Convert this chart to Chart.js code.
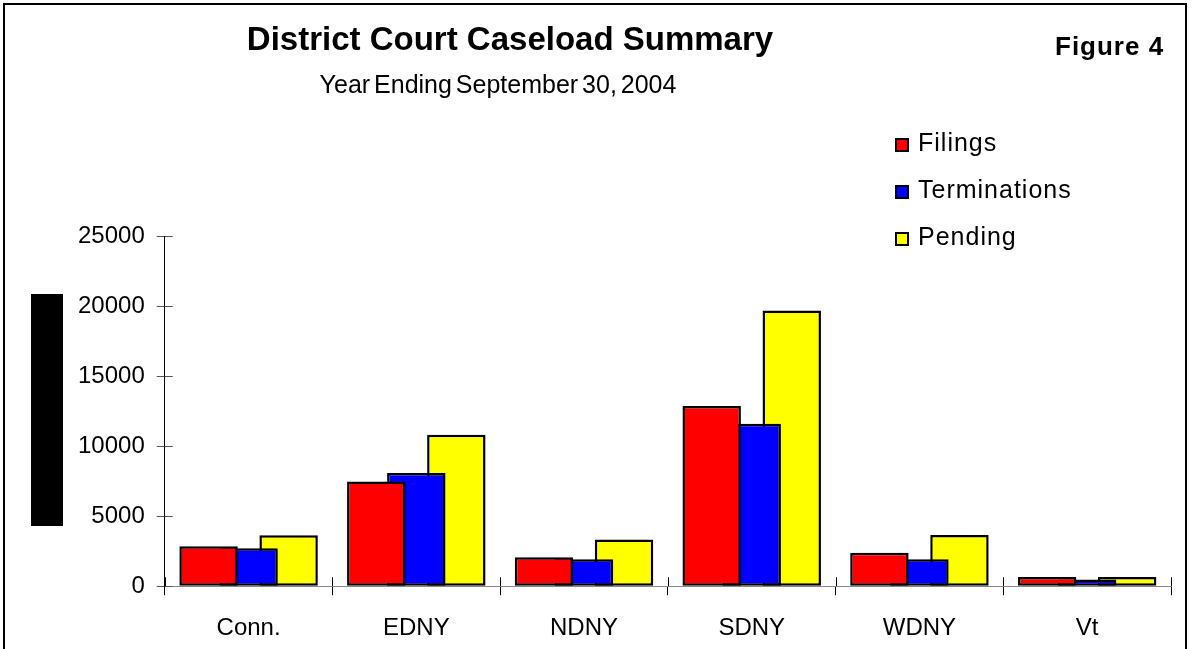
<!DOCTYPE html>
<html>
<head>
<meta charset="utf-8">
<script src="https://cdn.jsdelivr.net/npm/chart.js@4"></script>
<style>
    body { margin: 0; background: #fff; font-family: "Liberation Sans", Arial, sans-serif; }
    #wrap { position: relative; width: 1196px; height: 649px; overflow: hidden; }
    #frame { position: absolute; left: 3px; top: 3px; width: 1184px; height: 700px; border: 2px solid #000; box-sizing: border-box; }
    #titulo { position: absolute; left: 0; width: 1020px; top: 20px; text-align: center; font-weight: bold; font-size: 33px; }
    #subtitulo { position: absolute; left: 0; width: 996px; top: 70px; text-align: center; font-size: 25px; word-spacing: -3px; }
    #figura { position: absolute; left: 1055px; top: 31px; font-weight: bold; font-size: 26px; letter-spacing: 1px; }
    #bloque { position: absolute; left: 31px; top: 294px; width: 32px; height: 232px; background: #000; }
    #leyenda { position: absolute; left: 895px; top: 128px; }
    .item { height: 47px; display: flex; align-items: flex-start; font-size: 25px; letter-spacing: 1px; }
    .cuadro { width: 10px; height: 10px; border: 2px solid #000; margin-top: 10px; margin-right: 9px; }
    canvas { position: absolute; left: 0; top: 0; }
</style>
</head>
<body>
<div id="wrap">
    <canvas id="grafico" width="1196" height="680"></canvas>
    <div id="frame"></div>
    <div id="titulo">District Court Caseload Summary</div>
    <div id="subtitulo">Year Ending September 30, 2004</div>
    <div id="figura">Figure 4</div>
    <div id="bloque"></div>
    <div id="leyenda"></div>
</div>
<script>
const distritos = ['Conn.', 'EDNY', 'NDNY', 'SDNY', 'WDNY', 'Vt'];
const filings = [2860, 7480, 2070, 12860, 2380, 660];
const terminations = [2710, 8090, 1930, 11590, 1930, 480];
const pending = [3640, 10810, 3330, 19690, 3660, 660];
const series = ['Filings', 'Terminations', 'Pending'];
const colores = ['#FF0000', '#0000FF', '#FFFF00'];
const ticksY = [0, 5000, 10000, 15000, 20000, 25000];

const fuente = '"Liberation Sans", Arial, sans-serif';

// leyenda vertical, a partir de las series
const leyenda = document.getElementById('leyenda');
series.forEach((nombre, i) => {
    leyenda.innerHTML += `<div class="item"><span class="cuadro" style="background:${colores[i]}"></span><span>${nombre}</span></div>`;
});

// marcas que cruzan los ejes hacia dentro del área
const marcasInternas = {
    id: 'marcasInternas',
    afterDraw(chart) {
        const ctx = chart.ctx;
        const area = chart.chartArea;
        const x = chart.scales.x;
        const y = chart.scales.y;
        ctx.save();
        ctx.lineWidth = 1;
        ctx.strokeStyle = '#555';
        y.ticks.forEach((t, i) => {
            const py = Math.round(y.getPixelForTick(i)) + 0.5;
            ctx.beginPath();
            ctx.moveTo(area.left, py);
            ctx.lineTo(area.left + 8, py);
            ctx.stroke();
        });
        ctx.strokeStyle = '#000';
        const medio = (x.getPixelForTick(1) - x.getPixelForTick(0)) / 2;
        for (let i = 0; i <= distritos.length; i++) {
            const px = Math.round(x.getPixelForTick(0) - medio + i * medio * 2) + 0.5;
            ctx.beginPath();
            ctx.moveTo(px, area.bottom);
            ctx.lineTo(px, area.bottom - 9);
            ctx.stroke();
        }
        ctx.restore();
    }
};

new Chart(document.getElementById('grafico'), {
    type: 'bar',
    data: {
        labels: distritos,
        datasets: [
            { label: series[0], data: filings, backgroundColor: colores[0] },
            { label: series[1], data: terminations, backgroundColor: colores[1] },
            { label: series[2], data: pending, backgroundColor: colores[2] }
        ].map(d => Object.assign(d, {
            borderColor: '#000',
            borderWidth: 2.5,
            borderSkipped: false,
            categoryPercentage: 0.716,
            barPercentage: 1.46
        }))
    },
    options: {
        responsive: false,
        animation: false,
        layout: { padding: { left: 66, right: 25, top: 236, bottom: 18 } },
        plugins: { legend: { display: false }, tooltip: { enabled: false } },
        scales: {
            x: {
                grid: { drawOnChartArea: false, drawTicks: true, tickLength: 9, color: '#000' },
                border: { display: true, color: '#888', width: 1 },
                ticks: { color: '#000', padding: 19, font: { family: fuente, size: 24 } }
            },
            y: {
                min: ticksY[0],
                max: ticksY[ticksY.length - 1],
                afterBuildTicks(scale) { scale.ticks = ticksY.map(v => ({ value: v })); },
                grid: { drawOnChartArea: false, drawTicks: true, tickLength: 8, color: '#555' },
                border: { display: true, color: '#000', width: 1 },
                ticks: { color: '#000', padding: 12, font: { family: fuente, size: 24 }, callback: v => String(v) }
            }
        }
    },
    plugins: [marcasInternas]
});
</script>
</body>
</html>
